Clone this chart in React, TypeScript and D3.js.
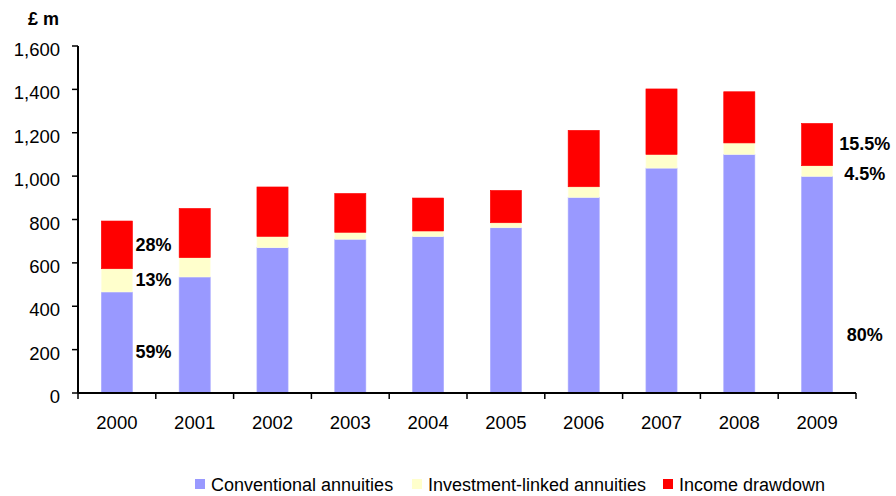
import React from "react";
import * as d3 from "d3";

const years = ["2000","2001","2002","2003","2004","2005","2006","2007","2008","2009"];
const conventional = [466, 535, 670, 709, 721, 762, 902, 1037, 1100, 999];
const investmentLinked = [107, 89, 52, 32, 26, 23, 49, 63, 53, 49];
const drawdown = [220, 227, 228, 179, 152, 149, 260, 302, 236, 195];
const seriesNames = ["Conventional annuities", "Investment-linked annuities", "Income drawdown"];
const seriesColors = ["#9999FF", "#FFFFCC", "#FF0000"];
const yTicks = [0, 200, 400, 600, 800, 1000, 1200, 1400, 1600];
const leftLabels = [
  { text: "28%", year: "2000", value: 686 },
  { text: "13%", year: "2000", value: 522 },
  { text: "59%", year: "2000", value: 190 },
];
const rightLabels = [
  { text: "15.5%", year: "2009", value: 1148 },
  { text: "4.5%", year: "2009", value: 1010 },
  { text: "80%", year: "2009", value: 268 },
];

const W = 896, H = 496;
const M = { left: 78, right: 40, top: 46, bottom: 103 };

export default function App() {
  const x = d3.scaleBand<string>().domain(years).range([M.left, W - M.right]).paddingInner(0.6).paddingOuter(0.3);
  const xOuter = d3.scaleBand<string>().domain(years).range([M.left, W - M.right]);
  const y = d3.scaleLinear().domain([0, 1600]).range([H - M.bottom, M.top]);
  const rows = years.map((yr, i) => ({ year: yr, c: conventional[i], il: investmentLinked[i], d: drawdown[i] }));
  const stack = d3.stack<any>().keys(["c", "il", "d"])(rows);
  const font = "'Liberation Sans', Arial, sans-serif";
  const legendX = [195, 412, 663];
  return (
    <svg width={W} height={H} style={{ position: "absolute", left: 0, top: 0, background: "#fff" }} fontFamily={font}>
      <text x={28} y={25} fontSize={18} fontWeight="bold" fill="#000">£ m</text>
      {stack.map((layer, si) => (
        <g key={si} fill={seriesColors[si]}>
          {layer.map((d, i) => (
            <rect key={i} x={x(years[i])} width={x.bandwidth()} y={y(d[1])} height={y(d[0]) - y(d[1])}
              stroke={d3.color(seriesColors[si])!.brighter(0.3).toString()} strokeWidth={0.6} />
          ))}
        </g>
      ))}
      <line x1={M.left} x2={M.left} y1={y(1600)} y2={y(0)} stroke="#000" strokeWidth={2} />
      <line x1={M.left} x2={W - M.right} y1={y(0)} y2={y(0)} stroke="#000" strokeWidth={2} />
      {yTicks.map(t => (
        <g key={t}>
          <line x1={M.left - 6} x2={M.left} y1={y(t)} y2={y(t)} stroke="#000" strokeWidth={1.5} />
          <text x={60} y={y(t) + 10} textAnchor="end" fontSize={18.5} fill="#000">{d3.format(",")(t)}</text>
        </g>
      ))}
      {years.map(yr => (
        <g key={yr}>
          <line x1={xOuter(yr)! + xOuter.bandwidth()} x2={xOuter(yr)! + xOuter.bandwidth()} y1={y(0)} y2={y(0) + 6} stroke="#000" strokeWidth={1.5} />
          <text x={xOuter(yr)! + xOuter.bandwidth() / 2} y={y(0) + 36} textAnchor="middle" fontSize={18.5} fill="#000">{yr}</text>
        </g>
      ))}
      <line x1={M.left} x2={M.left} y1={y(0)} y2={y(0) + 6} stroke="#000" strokeWidth={1.5} />
      {leftLabels.map(l => (
        <text key={l.text} x={x(l.year)! + x.bandwidth() + 3} y={y(l.value)} dy="0.35em" fontSize={18} fontWeight="bold" fill="#000">{l.text}</text>
      ))}
      {rightLabels.map(l => (
        <text key={l.text} x={x(l.year)! + x.bandwidth() + 32} y={y(l.value)} dy="0.35em" textAnchor="middle" fontSize={18} fontWeight="bold" fill="#000">{l.text}</text>
      ))}
      {seriesNames.map((n, i) => (
        <g key={n}>
          <rect x={legendX[i]} y={479} width={10} height={10} fill={seriesColors[i]} />
          <text x={legendX[i] + 16} y={491} fontSize={18} fill="#000">{n}</text>
        </g>
      ))}
    </svg>
  );
}
